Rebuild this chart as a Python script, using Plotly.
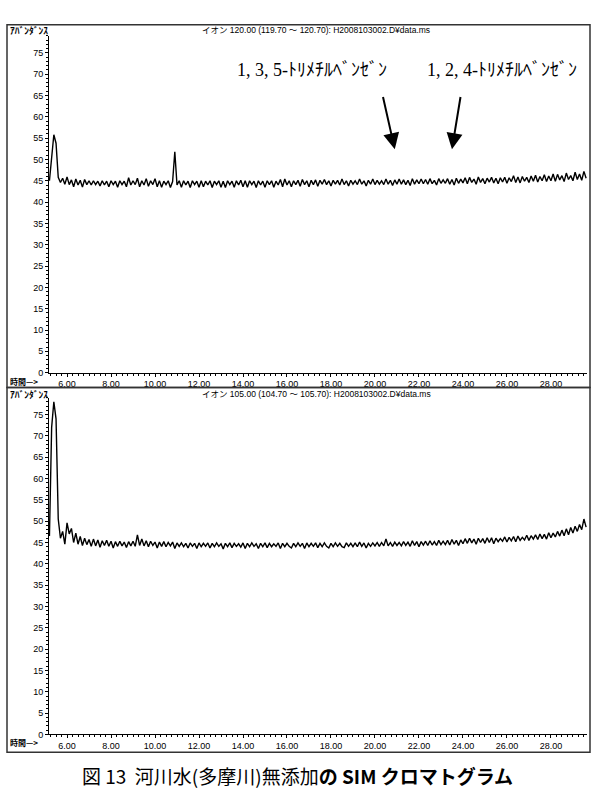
import numpy as np
import plotly.graph_objects as go

# ---------------- data ----------------
t_start = 5.2      # first sample time (min)
t_step = 0.1       # sampling interval (min)

ion120 = [
    45.0, 51.5, 55.8, 53.8, 45.8, 44.6, 45.6, 44.2, 45.9, 44.1,
    45.2, 43.6, 45.4, 44.0, 45.1, 43.5, 45.3, 44.1, 45.0, 44.0,
    45.0, 44.1, 44.9, 43.8, 45.0, 44.0, 44.9, 43.6, 45.0, 44.1,
    44.9, 43.5, 45.0, 44.1, 44.9, 43.6, 45.7, 44.0, 45.0, 44.1,
    45.6, 43.6, 45.0, 44.0, 45.5, 43.7, 45.0, 44.1, 45.5, 43.6,
    45.0, 43.5, 44.9, 44.1, 45.0, 43.4, 44.8, 51.8, 44.0, 45.0,
    43.5, 45.0, 44.0, 44.9, 43.4, 45.0, 44.1, 44.9, 43.5, 45.0,
    43.6, 44.9, 44.0, 45.0, 43.4, 44.9, 44.1, 45.0, 43.5, 44.9,
    43.4, 45.0, 44.1, 44.9, 43.5, 45.0, 44.0, 45.1, 43.6, 45.0,
    43.5, 45.0, 44.1, 44.9, 43.4, 45.0, 44.0, 44.9, 43.5, 45.0,
    44.1, 45.0, 43.5, 44.9, 44.0, 45.3, 43.6, 45.4, 44.0, 45.0,
    43.6, 45.0, 44.1, 45.1, 43.7, 45.3, 44.1, 45.0, 43.6, 45.1,
    44.1, 45.2, 43.7, 45.1, 44.2, 45.3, 44.1, 45.0, 43.8, 45.1,
    44.2, 45.1, 44.0, 45.4, 44.1, 45.0, 43.8, 45.1, 44.2, 45.0,
    44.1, 45.4, 44.2, 45.0, 43.8, 45.1, 44.2, 45.4, 44.1, 45.1,
    44.2, 45.0, 44.1, 45.4, 44.2, 45.1, 43.9, 45.2, 44.2, 45.4,
    44.2, 45.2, 44.1, 45.1, 43.9, 45.5, 44.2, 45.2, 44.3, 45.4,
    44.3, 45.3, 44.2, 45.5, 44.3, 45.1, 44.0, 45.5, 44.4, 45.2,
    44.4, 45.5, 44.2, 45.3, 44.0, 45.6, 44.4, 45.4, 44.5, 45.7,
    44.3, 45.8, 44.6, 45.4, 44.2, 45.9, 44.6, 45.5, 44.3, 45.6,
    44.7, 45.8, 44.5, 45.6, 44.3, 45.7, 44.7, 45.8, 44.4, 45.7,
    44.8, 46.2, 44.6, 45.9, 44.5, 46.0, 44.9, 45.8, 44.6, 46.1,
    44.9, 46.3, 44.7, 46.0, 45.0, 46.4, 44.8, 46.1, 45.0, 46.6,
    44.9, 46.5, 45.2, 46.2, 44.8, 46.8, 45.3, 46.2, 45.0, 47.0,
    45.3, 46.6, 45.1, 47.2, 45.6,
]

ion105 = [
    46.5, 72.0, 78.0, 74.0, 50.5, 46.0, 47.6, 44.6, 49.6, 47.0,
    48.3, 45.0, 47.2, 44.6, 46.4, 44.3, 46.0, 44.5, 45.7, 44.1,
    45.8, 44.2, 45.6, 43.9, 45.4, 44.3, 45.5, 44.1, 45.3, 43.7,
    45.2, 44.1, 45.3, 44.2, 45.1, 43.8, 45.2, 44.2, 45.3, 44.1,
    46.8, 44.3, 45.8, 44.2, 45.4, 44.0, 45.3, 44.3, 45.1, 43.7,
    45.1, 44.1, 45.2, 44.0, 45.0, 44.2, 45.1, 43.6, 44.9, 44.1,
    44.9, 44.0, 44.8, 43.7, 44.9, 44.1, 44.8, 43.6, 44.9, 44.0,
    44.8, 44.1, 44.9, 43.7, 44.8, 44.0, 44.9, 44.1, 44.7, 43.5,
    44.8, 44.0, 44.9, 43.8, 44.8, 44.1, 44.7, 43.9, 44.9, 43.6,
    44.8, 44.0, 44.9, 44.1, 44.7, 43.6, 44.8, 44.0, 44.9, 43.8,
    44.8, 44.0, 44.7, 44.1, 44.9, 43.6, 44.8, 44.0, 44.8, 44.1,
    43.7, 44.8, 44.0, 44.9, 44.1, 44.8, 43.6, 44.9, 44.0, 44.8,
    44.1, 44.9, 43.8, 44.8, 44.0, 44.9, 44.1, 43.7, 44.8, 44.0,
    44.9, 44.1, 44.8, 44.0, 43.8, 44.9, 44.1, 44.8, 44.0, 44.9,
    44.0, 45.1, 44.1, 44.9, 43.7, 44.8, 44.1, 44.9, 44.2, 45.0,
    44.1, 45.0, 44.2, 45.8, 44.2, 45.0, 44.1, 45.1, 44.3, 45.0,
    44.2, 45.2, 44.3, 45.1, 44.1, 45.4, 44.3, 45.2, 44.0, 45.2,
    44.4, 45.3, 44.3, 45.4, 44.4, 45.2, 44.3, 45.5, 44.5, 45.3,
    44.5, 45.5, 44.4, 45.7, 44.6, 45.5, 44.3, 45.6, 44.7, 45.9,
    44.8, 46.0, 44.9, 45.8, 44.6, 46.0, 45.0, 45.9, 44.8, 46.1,
    45.0, 46.1, 44.7, 46.0, 45.2, 45.9, 45.3, 46.3, 45.1, 46.2,
    45.4, 46.4, 45.2, 46.5, 45.5, 46.2, 45.6, 46.7, 45.5, 46.6,
    45.8, 46.8, 45.7, 47.0, 45.9, 46.9, 45.8, 47.3, 46.1, 47.2,
    46.3, 47.6, 46.5, 47.9, 46.6, 48.2, 46.8, 48.5, 47.2, 48.8,
    47.6, 49.2, 48.0, 50.5, 48.6,
]

header_top = "イオン 120.00 (119.70 ～ 120.70): H2008103002.D¥data.ms"
header_bot = "イオン 105.00 (104.70 ～ 105.70): H2008103002.D¥data.ms"
y_title = "ｱﾊﾞﾝﾀﾞﾝｽ"
x_title = "時間—>"
label_135 = "1, 3, 5-ﾄﾘﾒﾁﾙﾍﾞﾝｾﾞﾝ"
label_124 = "1, 2, 4-ﾄﾘﾒﾁﾙﾍﾞﾝｾﾞﾝ"
arrow_tips = [(20.9, 52.4), (23.5, 52.4)]
arrow_tails = [(20.35, 65.0), (23.9, 65.0)]
caption = "図 13  河川水(多摩川)無添加<b>の SIM クロマトグラム</b>"

# ---------------- figure ----------------
W, H = 592, 801
def px(x):
    return x / W
def py(y):
    return 1 - y / H

times = np.round(t_start + t_step * np.arange(len(ion120)), 2)

fig = go.Figure()
fig.add_trace(go.Scatter(x=times, y=ion120, mode="lines",
                         line=dict(color="black", width=1.4),
                         xaxis="x", yaxis="y", showlegend=False))
fig.add_trace(go.Scatter(x=times, y=ion105, mode="lines",
                         line=dict(color="black", width=1.4),
                         xaxis="x2", yaxis="y2", showlegend=False))

tickfont = dict(family="Liberation Sans, Arial, sans-serif", size=9, color="black")
xr = [5.18, 29.64]
yr = [0, 79]

def xax(anchor):
    return dict(domain=[px(49), px(587)], range=xr, anchor=anchor,
                tickmode="linear", tick0=6, dtick=2, tickformat=".2f",
                ticks="outside", ticklen=3, tickcolor="black",
                minor=dict(tickmode="linear", tick0=0, dtick=0.25, ticklen=2,
                           ticks="outside", tickcolor="black"),
                showline=True, linecolor="black", linewidth=1,
                showgrid=False, zeroline=False, tickfont=tickfont)

def yax(anchor, dom):
    return dict(domain=dom, range=yr, anchor=anchor,
                tickmode="linear", tick0=0, dtick=5,
                ticks="outside", ticklen=3, tickcolor="black",
                minor=dict(tickmode="linear", tick0=0, dtick=1, ticklen=2,
                           ticks="outside", tickcolor="black"),
                showline=True, linecolor="black", linewidth=1,
                showgrid=False, zeroline=False, tickfont=tickfont)

fig.update_layout(
    width=W, height=H, autosize=False,
    margin=dict(l=0, r=0, t=0, b=0),
    paper_bgcolor="white", plot_bgcolor="white",
    xaxis=xax("y"),
    yaxis=yax("x", [py(375), py(36)]),
    xaxis2=xax("y2"),
    yaxis2=yax("x2", [py(739), py(400)]),
)

# frames
shapes = [
    dict(type="rect", xref="paper", yref="paper",
         x0=px(7), x1=px(590), y0=py(390), y1=py(25),
         line=dict(color="#333", width=1.5)),
    dict(type="rect", xref="paper", yref="paper",
         x0=px(7), x1=px(590), y0=py(757), y1=py(390),
         line=dict(color="#333", width=1.5)),
]
fig.update_layout(shapes=shapes)

hdr_font = dict(family="Liberation Sans, Noto Sans CJK JP, sans-serif", size=8.5, color="black")
lbl_font = dict(family="Noto Sans CJK JP, sans-serif", size=9.5, color="black")
time_font = dict(family="Noto Sans CJK JP, sans-serif", size=8, color="black")
ann = []
for ytop, ybot, hdr in [(30, 384, header_top), (396, 747, header_bot)]:
    ann.append(dict(text=f"<b>{y_title}</b>", xref="paper", yref="paper",
                    x=px(8), y=py(ytop), xanchor="left", yanchor="middle",
                    showarrow=False, font=lbl_font))
    ann.append(dict(text=hdr, xref="paper", yref="paper",
                    x=px(316), y=py(ytop), xanchor="center", yanchor="middle",
                    showarrow=False, font=hdr_font))
    ann.append(dict(text=f"<b>{x_title}</b>", xref="paper", yref="paper",
                    x=px(8), y=py(ybot), xanchor="left", yanchor="middle",
                    showarrow=False, font=time_font))

cmp_font = dict(family="Liberation Serif, Noto Sans CJK JP, serif", size=18, color="black")
ann.append(dict(text=label_135, xref="paper", yref="paper", x=px(312), y=py(70),
                xanchor="center", yanchor="middle", showarrow=False, font=cmp_font))
ann.append(dict(text=label_124, xref="paper", yref="paper", x=px(502), y=py(70),
                xanchor="center", yanchor="middle", showarrow=False, font=cmp_font))
for (tx, ty), (sx, sy) in zip(arrow_tips, arrow_tails):
    ann.append(dict(x=tx, y=ty, ax=sx, ay=sy, xref="x", yref="y",
                    axref="x", ayref="y", text="", showarrow=True,
                    arrowhead=2, arrowsize=1.6, arrowwidth=2, arrowcolor="black"))

ann.append(dict(text=caption, xref="paper", yref="paper", x=px(297), y=py(780),
                xanchor="center", yanchor="middle", showarrow=False,
                font=dict(family="Noto Sans CJK JP, sans-serif", size=19, color="black")))

fig.update_layout(annotations=ann)
fig.write_html("out.html")
